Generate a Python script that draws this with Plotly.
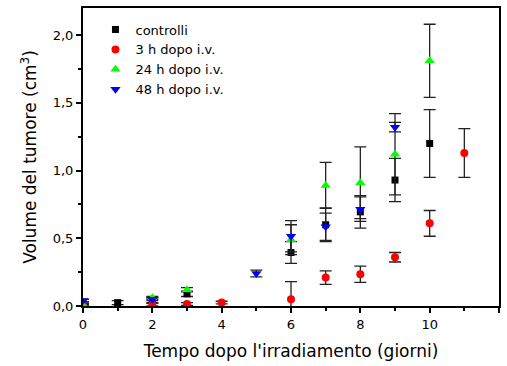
import plotly.graph_objects as go

# Data
days_ctrl = [0, 1, 2, 3, 6, 7, 8, 9, 10]
vol_ctrl = [0.02, 0.025, 0.045, 0.09, 0.395, 0.60, 0.695, 0.93, 1.20]
err_ctrl = [0.01, 0.015, 0.02, 0.02, 0.08, 0.125, 0.12, 0.16, 0.25]

days_3h = [0, 2, 3, 4, 6, 7, 8, 9, 10, 11]
vol_3h = [0.005, 0.01, 0.015, 0.025, 0.05, 0.21, 0.235, 0.36, 0.61, 1.13]
err_3h = [0.005, 0.01, 0.01, 0.01, 0.13, 0.05, 0.06, 0.035, 0.095, 0.18]

days_24h = [0, 2, 3, 6, 7, 8, 9, 10]
vol_24h = [0.01, 0.06, 0.12, 0.49, 0.89, 0.91, 1.12, 1.81]
err_24h = [0.01, 0.01, 0.015, 0.11, 0.17, 0.265, 0.30, 0.27]

days_48h = [0, 2, 5, 6, 7, 8, 9]
vol_48h = [0.04, 0.05, 0.24, 0.515, 0.585, 0.715, 1.32]
err_48h = [0.01, 0.01, 0.025, 0.115, 0.10, 0.09, 0.035]

series = [
    ("controlli", days_ctrl, vol_ctrl, err_ctrl, "square", "#000000", 7),
    ("3 h dopo i.v.", days_3h, vol_3h, err_3h, "circle", "#ff0000", 8),
    ("24 h dopo i.v.", days_24h, vol_24h, err_24h, "triangle-up", "#00ff00", 9),
    ("48 h dopo i.v.", days_48h, vol_48h, err_48h, "triangle-down", "#0000ff", 9),
]

FONT = "DejaVu Sans"
fig = go.Figure()
for name, x, y, e, sym, col, sz in series:
    fig.add_trace(go.Scatter(
        x=x, y=y, mode="markers", name=name,
        marker=dict(symbol=sym, color=col, size=sz, line=dict(width=0)),
        error_y=dict(type="data", array=e, visible=True, color="#222222",
                     thickness=1.3, width=6),
    ))

fig.update_layout(
    width=507, height=366,
    margin=dict(l=83, r=6, t=8, b=60),
    paper_bgcolor="white", plot_bgcolor="white",
    separators=",.",
    font=dict(family=FONT, color="black", size=12),
    showlegend=True,
    legend=dict(x=0.03, y=0.978, xanchor="left", yanchor="top",
                bgcolor="rgba(0,0,0,0)", font=dict(size=13, family=FONT),
                itemwidth=30, tracegroupgap=0),
    xaxis=dict(
        range=[0, 12], tickmode="array", tickvals=[0, 2, 4, 6, 8, 10, 12],
        ticks="outside", ticklen=5, tickwidth=1.5, tickcolor="black",
        minor=dict(tickvals=[1, 3, 5, 7, 9, 11], ticks="outside", ticklen=3,
                   tickwidth=1.5, tickcolor="black"),
        showline=True, linecolor="black", linewidth=2, mirror=True,
        showgrid=False, zeroline=False,
        tickfont=dict(size=13, family=FONT),
        title=dict(text="Tempo dopo l'irradiamento (giorni)",
                   font=dict(size=17, family=FONT), standoff=15),
    ),
    yaxis=dict(
        range=[0, 2.2], tickmode="array", tickvals=[0, 0.5, 1.0, 1.5, 2.0],
        tickformat=".1f",
        ticks="outside", ticklen=5, tickwidth=1.5, tickcolor="black",
        minor=dict(tickvals=[0.25, 0.75, 1.25, 1.75], ticks="outside",
                   ticklen=3, tickwidth=1.5, tickcolor="black"),
        showline=True, linecolor="black", linewidth=2, mirror=True,
        showgrid=False, zeroline=False,
        tickfont=dict(size=13, family=FONT),
        title=dict(text="Volume del tumore (cm<sup>3</sup>)",
                   font=dict(size=17, family=FONT), standoff=12),
    ),
)

fig.write_html("out.html")
